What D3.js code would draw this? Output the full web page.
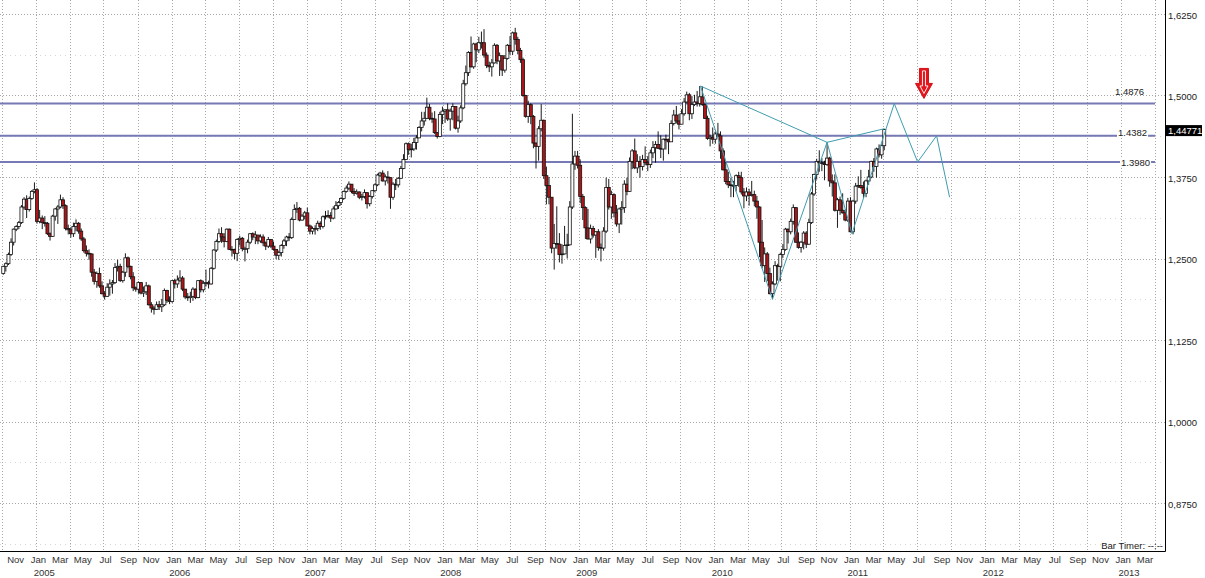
<!DOCTYPE html>
<html><head><meta charset="utf-8">
<script src="https://cdn.jsdelivr.net/npm/d3@7"></script>
<style>
body{margin:0;background:#fff;}
svg{display:block;font-family:"Liberation Sans",Arial,sans-serif;}
</style></head><body>
<svg id="c" width="1205" height="578"></svg>
<script>
// ---------------- DATA ----------------
const firstWeek = "2004-10-04"; // weekly bars (Monday of each week), EUR/USD
const opens = [
1.2270,1.2380,1.2420,1.2560,1.2750,1.2950,1.2990,1.3050,1.3290,1.3410,1.3250,1.3420,1.3530,
1.3555,1.3070,1.3120,1.3050,1.3040,1.2880,1.2840,1.3150,1.3260,1.3290,1.3400,1.3310,1.2960,
1.2940,1.2880,1.2990,1.3040,1.2920,1.2800,1.2620,1.2580,1.2570,1.2290,1.2150,1.2270,1.2080,
1.1960,1.1920,1.2060,1.2110,1.2130,1.2360,1.2380,1.2160,1.2290,1.2510,1.2380,1.2220,1.2050,
1.2030,1.2130,1.1970,1.1990,1.2080,1.1790,1.1740,1.1720,1.1790,1.1760,1.1790,1.2010,1.1860,
1.1840,1.2160,1.2110,1.2170,1.2200,1.2030,1.1910,1.1900,1.1920,1.2030,1.1900,1.2160,1.2020,
1.2120,1.2130,1.2110,1.2350,1.2630,1.2760,1.2880,1.2830,1.2760,1.2950,1.2640,1.2640,1.2580,
1.2790,1.2810,1.2650,1.2650,1.2750,1.2880,1.2830,1.2860,1.2770,1.2830,1.2740,1.2690,1.2790,
1.2690,1.2640,1.2550,1.2590,1.2700,1.2770,1.2830,1.2820,1.3100,1.3250,1.3270,1.3090,1.3150,
1.3200,1.3000,1.2920,1.2960,1.2960,1.3040,1.2990,1.3140,1.3150,1.3160,1.3120,1.3260,1.3310,
1.3360,1.3420,1.3530,1.3580,1.3640,1.3530,1.3500,1.3520,1.3440,1.3450,1.3510,1.3340,1.3450,
1.3540,1.3630,1.3780,1.3810,1.3690,1.3750,1.3740,1.3440,1.3640,1.3630,1.3730,1.3880,1.4020,
1.4260,1.4170,1.4180,1.4280,1.4350,1.4510,1.4610,1.4650,1.4820,1.4650,1.4640,1.4430,1.4370,
1.4710,1.4760,1.4780,1.4640,1.4760,1.4830,1.4500,1.4610,1.4810,1.5180,1.5350,1.5660,1.5440,
1.5790,1.5700,1.5810,1.5810,1.5620,1.5460,1.5440,1.5500,1.5770,1.5530,1.5610,1.5390,1.5570,
1.5770,1.5680,1.5960,1.5860,1.5690,1.5550,1.5000,1.4680,1.4860,1.4680,1.4270,1.4220,1.4490,
1.4620,1.3770,1.3620,1.3440,1.2660,1.2730,1.2720,1.2560,1.2570,1.2700,1.2710,1.3290,1.3950,
1.4070,1.3930,1.3450,1.3280,1.2970,1.2800,1.2960,1.2860,1.2910,1.2670,1.2660,1.2920,1.3590,
1.3290,1.3480,1.3200,1.3030,1.3260,1.3280,1.3640,1.3530,1.3990,1.4150,1.3890,1.3990,1.3910,
1.4020,1.3970,1.3940,1.4120,1.4200,1.4250,1.4190,1.4180,1.4330,1.4320,1.4290,1.4570,1.4700,
1.4610,1.4560,1.4720,1.4900,1.5010,1.4720,1.4860,1.4900,1.4880,1.4980,1.4860,1.4650,1.4340,
1.4360,1.4330,1.4410,1.4380,1.4150,1.3860,1.3680,1.3630,1.3620,1.3620,1.3770,1.3740,1.3520,
1.3460,1.3520,1.3470,1.3480,1.3380,1.3290,1.2750,1.2390,1.2570,1.2270,1.1960,1.2110,1.2390,
1.2380,1.2560,1.2640,1.2950,1.2910,1.3070,1.3280,1.2750,1.2670,1.2750,1.2890,1.2720,1.3050,
1.3490,1.3790,1.3990,1.3970,1.3960,1.3940,1.4040,1.3690,1.3660,1.3240,1.3400,1.3240,1.3200,
1.3090,1.3380,1.2910,1.3380,1.3610,1.3620,1.3590,1.3500,1.3690,1.3750,1.3990,1.3910,1.4180,
1.4090,1.4230];
const highs = [
1.2390,1.2440,1.2590,1.2810,1.2960,1.3010,1.3075,1.3320,1.3440,1.3470,1.3450,1.3550,1.3667,
1.3580,1.3245,1.3160,1.3150,1.3060,1.2900,1.3170,1.3275,1.3320,1.3480,1.3440,1.3330,1.3020,
1.2980,1.3050,1.3100,1.3060,1.2960,1.2830,1.2700,1.2640,1.2580,1.2340,1.2300,1.2360,1.2150,
1.2000,1.2120,1.2180,1.2170,1.2430,1.2480,1.2420,1.2310,1.2580,1.2530,1.2390,1.2290,1.2070,
1.2150,1.2140,1.2070,1.2140,1.2100,1.1830,1.1770,1.1840,1.1850,1.1880,1.2040,1.2020,1.1920,
1.2170,1.2190,1.2240,1.2320,1.2230,1.2030,1.1970,1.1990,1.2060,1.2040,1.2170,1.2180,1.2160,
1.2330,1.2160,1.2370,1.2640,1.2790,1.2960,1.2980,1.2890,1.2960,1.2960,1.2690,1.2650,1.2810,
1.2850,1.2830,1.2680,1.2790,1.2890,1.2900,1.2920,1.2860,1.2870,1.2870,1.2760,1.2830,1.2800,
1.2760,1.2640,1.2620,1.2720,1.2800,1.2850,1.2890,1.3130,1.3330,1.3367,1.3290,1.3180,1.3230,
1.3280,1.3020,1.2990,1.3010,1.3080,1.3070,1.3160,1.3230,1.3240,1.3210,1.3300,1.3380,1.3380,
1.3440,1.3540,1.3620,1.3682,1.3640,1.3580,1.3560,1.3530,1.3490,1.3560,1.3510,1.3470,1.3550,
1.3650,1.3800,1.3830,1.3852,1.3790,1.3840,1.3740,1.3670,1.3720,1.3750,1.3920,1.4100,1.4280,
1.4280,1.4260,1.4350,1.4390,1.4530,1.4750,1.4750,1.4967,1.4870,1.4740,1.4760,1.4440,1.4750,
1.4830,1.4790,1.4880,1.4800,1.4880,1.4830,1.4690,1.4850,1.5240,1.5460,1.5680,1.5905,1.5810,
1.5810,1.5900,1.5980,1.6018,1.5660,1.5520,1.5560,1.5800,1.5790,1.5660,1.5610,1.5620,1.5790,
1.5910,1.5980,1.6038,1.5900,1.5730,1.5580,1.5010,1.4920,1.4880,1.4700,1.4280,1.4530,1.4867,
1.4630,1.3910,1.3750,1.3440,1.3030,1.3300,1.2890,1.2720,1.3000,1.2880,1.3380,1.4720,1.4150,
1.4150,1.4020,1.3490,1.3300,1.3260,1.3020,1.3000,1.2920,1.2950,1.2730,1.2980,1.3740,1.3720,
1.3540,1.3500,1.3320,1.3280,1.3380,1.3700,1.3740,1.4050,1.4180,1.4340,1.4100,1.4070,1.4090,
1.4220,1.4070,1.4170,1.4300,1.4300,1.4450,1.4390,1.4340,1.4400,1.4340,1.4620,1.4780,1.4840,
1.4720,1.4790,1.4960,1.5060,1.5040,1.4990,1.5010,1.5070,1.5145,1.5140,1.4880,1.4690,1.4400,
1.4510,1.4450,1.4580,1.4450,1.4190,1.3980,1.3830,1.3740,1.3690,1.3790,1.3830,1.3830,1.3580,
1.3590,1.3570,1.3690,1.3540,1.3460,1.3300,1.3090,1.2670,1.2600,1.2360,1.2150,1.2460,1.2420,
1.2590,1.2720,1.2970,1.2960,1.3110,1.3330,1.3290,1.2900,1.2770,1.2920,1.2920,1.3110,1.3520,
1.3800,1.4030,1.4160,1.4040,1.4000,1.4282,1.4060,1.3790,1.3790,1.3430,1.3450,1.3500,1.3250,
1.3430,1.3440,1.3400,1.3660,1.3760,1.3860,1.3680,1.3710,1.3860,1.4000,1.4040,1.4200,1.4250,
1.4250,1.4490];
const lows = [
1.2250,1.2300,1.2400,1.2540,1.2700,1.2920,1.2950,1.3030,1.3250,1.3120,1.3220,1.3400,1.3500,
1.3035,1.3040,1.2950,1.2990,1.2860,1.2775,1.2830,1.3080,1.3030,1.3270,1.3260,1.2930,1.2870,
1.2820,1.2830,1.2920,1.2880,1.2770,1.2590,1.2530,1.2480,1.2220,1.2100,1.2050,1.2050,1.1950,
1.1870,1.1910,1.1930,1.1960,1.2110,1.2300,1.2140,1.2130,1.2220,1.2350,1.2180,1.2000,1.1990,
1.1960,1.1950,1.1910,1.1940,1.1780,1.1670,1.1640,1.1710,1.1710,1.1680,1.1770,1.1820,1.1800,
1.1820,1.2040,1.2050,1.2140,1.2000,1.1880,1.1850,1.1820,1.1850,1.1880,1.1890,1.1980,1.1980,
1.2070,1.2040,1.2100,1.2330,1.2600,1.2740,1.2740,1.2670,1.2750,1.2630,1.2530,1.2490,1.2460,
1.2700,1.2610,1.2455,1.2580,1.2720,1.2780,1.2720,1.2720,1.2740,1.2690,1.2630,1.2660,1.2660,
1.2620,1.2490,1.2480,1.2530,1.2650,1.2690,1.2770,1.2800,1.3090,1.3200,1.3070,1.3080,1.3100,
1.2990,1.2870,1.2870,1.2866,1.2920,1.2940,1.2960,1.3100,1.3120,1.3060,1.3100,1.3250,1.3260,
1.3320,1.3400,1.3510,1.3550,1.3500,1.3460,1.3480,1.3410,1.3390,1.3420,1.3266,1.3300,1.3420,
1.3520,1.3610,1.3750,1.3680,1.3620,1.3650,1.3262,1.3400,1.3550,1.3590,1.3720,1.3870,1.4020,
1.4090,1.4050,1.4150,1.4170,1.4350,1.4450,1.4540,1.4640,1.4620,1.4580,1.4410,1.4340,1.4360,
1.4560,1.4580,1.4610,1.4460,1.4620,1.4480,1.4430,1.4580,1.4790,1.5150,1.5300,1.5430,1.5410,
1.5510,1.5650,1.5720,1.5580,1.5420,1.5360,1.5290,1.5490,1.5480,1.5300,1.5300,1.5350,1.5550,
1.5630,1.5620,1.5780,1.5630,1.5500,1.4980,1.4660,1.4580,1.4560,1.4190,1.3880,1.4000,1.4450,
1.3720,1.3330,1.3330,1.2580,1.2330,1.2650,1.2440,1.2420,1.2560,1.2500,1.2700,1.3260,1.3860,
1.3880,1.3350,1.3090,1.2800,1.2790,1.2730,1.2820,1.2510,1.2620,1.2455,1.2620,1.2890,1.3250,
1.3110,1.3130,1.2990,1.2890,1.3020,1.3200,1.3470,1.3520,1.3870,1.3870,1.3810,1.3740,1.3850,
1.3930,1.3840,1.3890,1.4040,1.3970,1.4180,1.4040,1.4000,1.4170,1.4100,1.4290,1.4540,1.4570,
1.4480,1.4560,1.4690,1.4880,1.4620,1.4640,1.4840,1.4830,1.4830,1.4840,1.4640,1.4320,1.4220,
1.4260,1.4260,1.4360,1.4030,1.3850,1.3640,1.3580,1.3440,1.3440,1.3530,1.3600,1.3480,1.3270,
1.3380,1.3310,1.3450,1.3300,1.3110,1.2520,1.2350,1.2140,1.2150,1.1950,1.1875,1.2090,1.2160,
1.2150,1.2510,1.2620,1.2730,1.2870,1.3020,1.2740,1.2650,1.2590,1.2640,1.2660,1.2710,1.3030,
1.3460,1.3710,1.3830,1.3840,1.3700,1.3920,1.3600,1.3450,1.3220,1.2970,1.3170,1.3190,1.3070,
1.3060,1.2900,1.2870,1.3340,1.3580,1.3570,1.3430,1.3440,1.3630,1.3730,1.3830,1.3740,1.4050,
1.4030,1.4160];
const closes = [
1.2380,1.2420,1.2560,1.2750,1.2950,1.2990,1.3050,1.3290,1.3410,1.3250,1.3420,1.3530,1.3555,
1.3070,1.3120,1.3050,1.3040,1.2880,1.2840,1.3150,1.3260,1.3290,1.3400,1.3310,1.2960,1.2940,
1.2880,1.2990,1.3040,1.2920,1.2800,1.2620,1.2580,1.2570,1.2290,1.2150,1.2270,1.2080,1.1960,
1.1920,1.2060,1.2110,1.2130,1.2360,1.2380,1.2160,1.2290,1.2510,1.2380,1.2220,1.2050,1.2030,
1.2130,1.1970,1.1990,1.2080,1.1790,1.1740,1.1720,1.1790,1.1760,1.1790,1.2010,1.1860,1.1840,
1.2160,1.2110,1.2170,1.2200,1.2030,1.1910,1.1900,1.1920,1.2030,1.1900,1.2160,1.2020,1.2120,
1.2130,1.2110,1.2350,1.2630,1.2760,1.2880,1.2830,1.2760,1.2950,1.2640,1.2640,1.2580,1.2790,
1.2810,1.2650,1.2650,1.2750,1.2880,1.2830,1.2860,1.2770,1.2830,1.2740,1.2690,1.2790,1.2690,
1.2640,1.2550,1.2590,1.2700,1.2770,1.2830,1.2820,1.3100,1.3250,1.3270,1.3090,1.3150,1.3200,
1.3000,1.2920,1.2960,1.2960,1.3040,1.2990,1.3140,1.3150,1.3160,1.3120,1.3260,1.3310,1.3360,
1.3420,1.3530,1.3580,1.3640,1.3530,1.3500,1.3520,1.3440,1.3450,1.3510,1.3340,1.3450,1.3540,
1.3630,1.3780,1.3810,1.3690,1.3750,1.3740,1.3440,1.3640,1.3630,1.3730,1.3880,1.4020,1.4260,
1.4170,1.4180,1.4280,1.4350,1.4510,1.4610,1.4650,1.4820,1.4650,1.4640,1.4430,1.4370,1.4710,
1.4760,1.4780,1.4640,1.4760,1.4830,1.4500,1.4610,1.4810,1.5180,1.5350,1.5660,1.5440,1.5790,
1.5700,1.5810,1.5810,1.5620,1.5460,1.5440,1.5500,1.5770,1.5530,1.5610,1.5390,1.5570,1.5770,
1.5680,1.5960,1.5860,1.5690,1.5550,1.5000,1.4680,1.4860,1.4680,1.4270,1.4220,1.4490,1.4620,
1.3770,1.3620,1.3440,1.2660,1.2730,1.2720,1.2560,1.2570,1.2700,1.2710,1.3290,1.3950,1.4070,
1.3930,1.3450,1.3280,1.2970,1.2800,1.2960,1.2860,1.2910,1.2670,1.2660,1.2920,1.3590,1.3290,
1.3480,1.3200,1.3030,1.3260,1.3280,1.3640,1.3530,1.3990,1.4150,1.3890,1.3990,1.3910,1.4020,
1.3970,1.3940,1.4120,1.4200,1.4250,1.4190,1.4180,1.4330,1.4320,1.4290,1.4570,1.4700,1.4610,
1.4560,1.4720,1.4900,1.5010,1.4720,1.4860,1.4900,1.4880,1.4980,1.4860,1.4650,1.4340,1.4360,
1.4330,1.4410,1.4380,1.4150,1.3860,1.3680,1.3630,1.3620,1.3620,1.3770,1.3740,1.3520,1.3460,
1.3520,1.3470,1.3480,1.3380,1.3290,1.2750,1.2390,1.2570,1.2270,1.1960,1.2110,1.2390,1.2380,
1.2560,1.2640,1.2950,1.2910,1.3070,1.3280,1.2750,1.2670,1.2750,1.2890,1.2720,1.3050,1.3490,
1.3790,1.3990,1.3970,1.3960,1.3940,1.4040,1.3690,1.3660,1.3240,1.3400,1.3240,1.3200,1.3090,
1.3380,1.2910,1.3380,1.3610,1.3620,1.3590,1.3500,1.3690,1.3750,1.3990,1.3910,1.4180,1.4090,
1.4230,1.4477];
const lastPrice = 1.44771;

// horizontal levels
const levelValues = [1.4876, 1.4382, 1.3980];
const levelLabels = ["1.4876", "1.4382", "1.3980"];

// projected harmonic pattern (X, A, B, C, D, then projection)
const patternDates  = ["2009-11-25","2010-06-07","2010-11-01","2011-01-07","2011-05-01","2011-07-03","2011-08-23","2011-09-27"];
const patternValues = [1.5145, 1.1875, 1.4282, 1.2880, 1.4876, 1.3980, 1.4382, 1.3440];
const extraDates  = [["2009-11-25","2010-11-01"],["2010-11-01","2011-04-04"]];
const extraValues = [[1.5145, 1.4282],[1.4282, 1.4490]];
const arrowDate = "2011-07-20", arrowValue = 1.4955;

// axis tick labels
const priceTicks = [0.875, 1.000, 1.125, 1.250, 1.375, 1.500, 1.625];
const monthNames = ["Jan","Feb","Mar","Apr","May","Jun","Jul","Aug","Sep","Oct","Nov","Dec"];
const yearLabels = [2005,2006,2007,2008,2009,2010,2011,2012,2013];

// ---------------- LAYOUT ----------------
const svg = d3.select("#c");
const R = 1165.5, B = 551.5;
const parse = d3.timeParse("%Y-%m-%d");
const x = d3.scaleTime().domain([new Date(2005,0,1), new Date(2013,0,1)]).range([36.3, 1121.1]);
const y = d3.scaleLinear().domain([0.875, 1.625]).range([503, 14]);
const start = parse(firstWeek);
const bars = closes.map((c,i)=>({d:d3.timeDay.offset(start,7*i),o:opens[i],h:highs[i],l:lows[i],c:c}));
const fmt = v => v.toFixed(4).replace(".", ",");

// grid
const g = svg.append("g");
const minor = priceTicks.map(v=>v-0.0625).concat([priceTicks[priceTicks.length-1]+0.0625]).filter(v=>y(v)>0&&y(v)<B);
g.selectAll(".mn").data(minor).join("line")
  .attr("x1",0).attr("x2",R).attr("y1",d=>Math.round(y(d))+0.5).attr("y2",d=>Math.round(y(d))+0.5)
  .attr("stroke","#d6d6d6").attr("stroke-dasharray","1,4");
g.selectAll(".mj").data(priceTicks).join("line")
  .attr("x1",0).attr("x2",R).attr("y1",d=>Math.round(y(d))+0.5).attr("y2",d=>Math.round(y(d))+0.5)
  .attr("stroke","#a8a8a8").attr("stroke-dasharray","1,2");
const quarters = d3.timeMonth.every(3).range(new Date(2004,9,1), new Date(2013,3,2));
g.selectAll(".vq").data(quarters).join("line")
  .attr("x1",d=>Math.round(x(d))+0.5).attr("x2",d=>Math.round(x(d))+0.5).attr("y1",0).attr("y2",B)
  .attr("stroke","#a8a8a8").attr("stroke-dasharray","1,2");

// level lines
const lv = svg.append("g");
const labelDy = [-12, -3, 0];
const labelX = [1115, 1118, 1121];
lv.selectAll("line").data(levelValues).join("line")
  .attr("x1",0).attr("x2",1155).attr("y1",d=>y(d)).attr("y2",d=>y(d))
  .attr("stroke","#7679b3").attr("stroke-width",2);
levelValues.forEach((v,i)=>{
  const t = lv.append("text").attr("x",labelX[i]).attr("y",y(v)+labelDy[i]+3.5)
    .attr("font-size",9.5).attr("fill","#222").text(levelLabels[i]);
  if(i>0){
    const bb = t.node().getBBox();
    lv.insert("rect","text").attr("x",bb.x-1).attr("y",bb.y+1).attr("width",bb.width+2).attr("height",bb.height-2).attr("fill","#fff");
  }
});

// candles
const cg = svg.append("g");
bars.forEach(b=>{
  const cx = x(b.d);
  const hi = Math.max(b.h,b.o,b.c), lo = Math.min(b.l,b.o,b.c);
  cg.append("line").attr("x1",cx).attr("x2",cx)
    .attr("y1",y(hi)).attr("y2",y(lo)).attr("stroke","#000").attr("stroke-width",0.9);
  const top = y(Math.max(b.o,b.c)), bot = y(Math.min(b.o,b.c));
  cg.append("rect").attr("x",cx-1.5).attr("y",top).attr("width",3).attr("height",Math.max(0.8,bot-top))
    .attr("fill", b.c>=b.o ? "#ffffff" : "#ad1519").attr("stroke","#111").attr("stroke-width",0.8);
});

// pattern lines
const teal = "#3f9cb0";
const pts = patternDates.map((d,i)=>[x(parse(d)), y(patternValues[i])]);
svg.append("path").attr("d", d3.line()(pts)).attr("fill","none").attr("stroke",teal).attr("stroke-width",1);
extraDates.forEach((ds,i)=>{
  svg.append("line").attr("x1",x(parse(ds[0]))).attr("y1",y(extraValues[i][0]))
    .attr("x2",x(parse(ds[1]))).attr("y2",y(extraValues[i][1])).attr("stroke",teal).attr("stroke-width",1);
});

// red arrow
const ax = x(parse(arrowDate)), ay = y(arrowValue);
const arrow = [[-4.5,-30],[4.5,-30],[4.5,-15],[8.5,-15],[0,0],[-8.5,-15],[-4.5,-15]];
svg.append("path").attr("d","M"+arrow.map(p=>[ax+p[0],ay+p[1]].join(",")).join("L")+"Z")
  .attr("fill","#e5171e").attr("stroke","#d10f16").attr("stroke-width",1);
const inner = [[-1.5,-27.5],[1.5,-27.5],[1.5,-12.5],[4,-12.5],[0,-5],[-4,-12.5],[-1.5,-12.5]];
svg.append("path").attr("d","M"+inner.map(p=>[ax+p[0],ay+p[1]].join(",")).join("L")+"Z")
  .attr("fill","none").attr("stroke","#ffffff").attr("stroke-width",0.9);

// axes frame
svg.append("line").attr("x1",0).attr("x2",R).attr("y1",B).attr("y2",B).attr("stroke","#000");
svg.append("line").attr("x1",R).attr("x2",R).attr("y1",0).attr("y2",B).attr("stroke","#000");

// right axis labels
svg.selectAll(".pl").data(priceTicks).join("text")
  .attr("x",1168).attr("y",d=>y(d)+4.5).attr("font-size",9.5).attr("fill","#222").text(fmt);
// last price tag
svg.append("rect").attr("x",1166).attr("y",y(lastPrice)-4.5).attr("width",36).attr("height",11).attr("fill","#000");
svg.append("text").attr("x",1168).attr("y",y(lastPrice)+4.5).attr("font-size",9.5).attr("fill","#fff")
  .text(String(lastPrice).replace(".", ","));

// bottom axis labels
const months = d3.timeMonth.every(2).range(new Date(2004,10,1), new Date(2013,3,2));
svg.selectAll(".ml").data(months).join("text")
  .attr("x",d=>x(d)+2).attr("y",563).attr("text-anchor","middle").attr("font-size",9.5).attr("fill","#333")
  .text(d=>monthNames[d.getMonth()]);
svg.selectAll(".yl").data(yearLabels).join("text")
  .attr("x",d=>x(new Date(d,0,1))+8).attr("y",576).attr("text-anchor","middle").attr("font-size",9.5).attr("fill","#333")
  .text(d=>d);
svg.append("text").attr("x",1163).attr("y",549).attr("text-anchor","end").attr("font-size",9.5).attr("fill","#222").text("Bar Timer: --:--");
</script>
</body></html>
